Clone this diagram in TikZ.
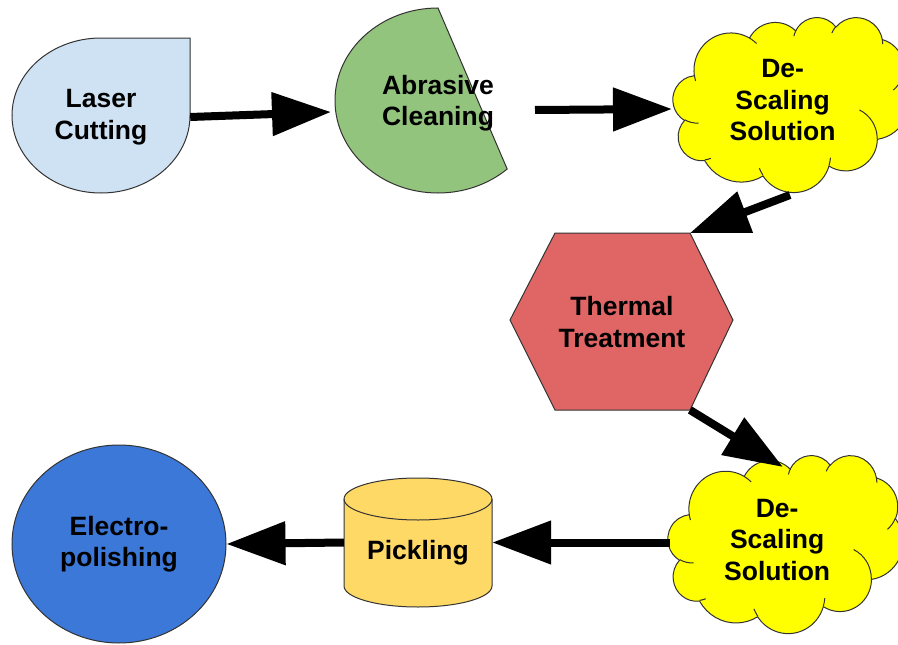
\documentclass[tikz,border=0pt]{standalone}
\usepackage{fontspec}
\setmainfont{Liberation Sans}
\usetikzlibrary{arrows.meta,shapes.geometric}
\definecolor{cLaser}{HTML}{CFE2F3}
\definecolor{cAbr}{HTML}{93C47D}
\definecolor{cCloud}{HTML}{FFFF00}
\definecolor{cHex}{HTML}{E06666}
\definecolor{cCyl}{HTML}{FFD966}
\definecolor{cElec}{HTML}{3C78D8}
\definecolor{cEdge}{HTML}{333333}
\tikzset{
  shapeline/.style={draw=cEdge, line width=1pt},
  lbl/.style={font=\bfseries\fontsize{26.5}{31.5}\selectfont, align=center, text=black, inner sep=0pt},
  arr/.style={line width=8pt, draw=black, -{Triangle[length=59pt,width=42pt]}},
}
% convert a DrawingML (geometric) arc angle pair into parametric start/delta
\newcommand\cldprep[5]{%
  \pgfmathsetmacro\cldtmpS{atan2(#2*sin(#4), #3*cos(#4))}%
  \pgfmathsetmacro\cldtmpE{atan2(#2*sin(#4+#5), #3*cos(#4+#5))}%
  \pgfmathsetmacro\cldtmpD{Mod(\cldtmpE-\cldtmpS+720,360)}%
  \global\expandafter\let\csname cldS#1\endcsname\cldtmpS
  \global\expandafter\let\csname cldD#1\endcsname\cldtmpD
}
\newcommand\cldprepall{%
  \cldprep{a}{675.3}{919.0}{-190.4875}{123.7805}%
  \cldprep{b}{533.3}{726.7}{-144.1024}{89.9452}%
  \cldprep{c}{436.5}{594.5}{-145.8079}{99.7230}%
  \cldprep{d}{485.7}{659.5}{-130.9861}{117.2417}%
  \cldprep{e}{533.3}{727.3}{-78.7089}{109.0269}%
  \cldprep{f}{677.5}{922.0}{-46.2673}{130.2690}%
  \cldprep{g}{578.5}{786.7}{0.6250}{114.0333}%
  \cldprep{h}{675.2}{921.5}{22.4516}{115.1726}%
  \cldprep{i}{772.0}{1054.3}{66.2426}{75.7110}%
  \cldprep{j}{436.0}{591.8}{-274.9421}{146.7356}%
  \cldprep{k}{434.5}{594.5}{-246.8285}{152.5189}%
  \cldprep{ia}{434.5}{594.5}{86.742}{26.4295}%
  \cldprep{ib}{436.0}{591.8}{73.6105}{11.4475}%
  \cldprep{ic}{675.2}{921.5}{137.6241}{14.0811}%
  \cldprep{id}{675.2}{921.5}{6.4533}{15.9984}%
  \cldprep{ie}{578.5}{786.7}{-70.2924}{70.9174}%
  \cldprep{if}{533.3}{727.3}{30.3180}{27.7515}%
  \cldprep{ig}{485.7}{659.5}{-13.7443}{14.8589}%
  \cldprep{ih}{485.7}{659.5}{-149.1815}{18.1954}%
  \cldprep{ii}{436.5}{594.5}{-163.4943}{17.6864}%
  \cldprep{ij}{675.3}{919.0}{-66.7070}{12.3194}%
  \cldprep{ik}{675.3}{919.0}{157.6544}{11.8582}%
}
% cloud: left, top, width, height, name, text
\newcommand\gcloud[6]{%
  \pgfmathsetmacro\cloudxu{#3/4320}%
  \pgfmathsetmacro\cloudyu{#4/4320}%
  \begin{scope}[shift={(#1,#2)}, x=\cloudxu pt, y=-\cloudyu pt]
    \filldraw[shapeline, fill=cCloud] (390,1437)
      arc[x radius=675.3, y radius=919.0, start angle=\cldSa, delta angle=\cldDa]
      arc[x radius=533.3, y radius=726.7, start angle=\cldSb, delta angle=\cldDb]
      arc[x radius=436.5, y radius=594.5, start angle=\cldSc, delta angle=\cldDc]
      arc[x radius=485.7, y radius=659.5, start angle=\cldSd, delta angle=\cldDd]
      arc[x radius=533.3, y radius=727.3, start angle=\cldSe, delta angle=\cldDe]
      arc[x radius=677.5, y radius=922.0, start angle=\cldSf, delta angle=\cldDf]
      arc[x radius=578.5, y radius=786.7, start angle=\cldSg, delta angle=\cldDg]
      arc[x radius=675.2, y radius=921.5, start angle=\cldSh, delta angle=\cldDh]
      arc[x radius=772.0, y radius=1054.3, start angle=\cldSi, delta angle=\cldDi]
      arc[x radius=436.0, y radius=591.8, start angle=\cldSj, delta angle=\cldDj]
      arc[x radius=434.5, y radius=594.5, start angle=\cldSk, delta angle=\cldDk]
      -- cycle;
    \draw[shapeline]
      (469.3,2617.7) arc[x radius=434.5, y radius=594.5, start angle=\cldSia, delta angle=\cldDia]
      (692.8,3489.9) arc[x radius=436.0, y radius=591.8, start angle=\cldSib, delta angle=\cldDib]
      (1647.8,3909.0) arc[x radius=675.2, y radius=921.5, start angle=\cldSic, delta angle=\cldDic]
      (2882.7,3475.1) arc[x radius=675.2, y radius=921.5, start angle=\cldSid, delta angle=\cldDid]
      (3412.9,2295.4) arc[x radius=578.5, y radius=786.7, start angle=\cldSie, delta angle=\cldDie]
      (4179.8,1535.4) arc[x radius=533.3, y radius=727.3, start angle=\cldSif, delta angle=\cldDif]
      (3832.4,542.6) arc[x radius=485.7, y radius=659.5, start angle=\cldSig, delta angle=\cldDig]
      (2907.8,395.2) arc[x radius=485.7, y radius=659.5, start angle=\cldSih, delta angle=\cldDih]
      (2214.1,472.0) arc[x radius=436.5, y radius=594.5, start angle=\cldSii, delta angle=\cldDii]
      (1400.0,519.2) arc[x radius=675.3, y radius=919.0, start angle=\cldSij, delta angle=\cldDij]
      (412.7,1578.9) arc[x radius=675.3, y radius=919.0, start angle=\cldSik, delta angle=\cldDik];
    \node[lbl] (#5) at (2006.6,2059.8) {#6};
  \end{scope}%
}
\begin{document}
\begin{tikzpicture}[x=1pt, y=-1pt]
\cldprepall
\fill[white] (0,0) rectangle (898,645);
\useasboundingbox (0,0) rectangle (898,645);

% Laser Cutting (teardrop)
\filldraw[shapeline, fill=cLaser] (190,115.5) -- (190,38) -- (101,38)
  arc[start angle=270, end angle=0, x radius=89, y radius=77.5] -- cycle;
\node[lbl, minimum width=178pt, minimum height=155pt] (laser) at (101,117) {Laser\\Cutting};

% Abrasive Cleaning (chord)
\filldraw[shapeline, fill=cAbr] (438,8)
  arc[start angle=270, end angle=47.8, x radius=103, y radius=92.5] -- cycle;
\node[lbl] (abrasive) at (438,103) {Abrasive\\Cleaning};

% Clouds
\gcloud{673}{17}{236}{175}{cloudA}{De-\\Scaling\\Solution}
\gcloud{668}{455}{235}{178}{cloudB}{De-\\Scaling\\Solution}

% Thermal Treatment (hexagon)
\coordinate (h1) at (510,320);
\coordinate (h2) at (555,233);
\coordinate (h3) at (690,233);
\coordinate (h4) at (733,320);
\coordinate (h5) at (690,410);
\coordinate (h6) at (555,410);
\filldraw[shapeline, fill=cHex] (h1) -- (h2) -- (h3) -- (h4) -- (h5) -- (h6) -- cycle;
\node[lbl] (thermal) at (622,322) {Thermal\\Treatment};

% Pickling (cylinder)
\filldraw[shapeline, fill=cCyl] (344,499) -- (344,586)
  arc[start angle=180, end angle=0, x radius=74, y radius=21] -- (492,499)
  arc[start angle=0, end angle=-180, x radius=74, y radius=21] -- cycle;
\draw[shapeline] (344,499) arc[start angle=180, end angle=0, x radius=74, y radius=21];
\node[lbl, minimum width=148pt, minimum height=129pt] (pickling) at (418,542.5) {};
\node[lbl] (picklingtxt) at (418,553) {Pickling};

% Electro-polishing (circle)
\node[ellipse, shapeline, fill=cElec, minimum width=214pt, minimum height=198pt, lbl] (electro) at (119,544) {Electro-\\polishing};

% connector end points
\coordinate (abrIn) at (331,112);
\coordinate (abrOut) at (535,110);
\coordinate (cloudAIn) at (672,109);
\coordinate (cloudAOut) at (790,195);
\coordinate (cloudBIn) at (783,467);
\coordinate (cloudBOut) at (670,542.5);

\draw[arr] (laser.east) -- (abrIn);
\draw[arr] (abrOut) -- (cloudAIn);
\draw[arr] (cloudAOut) -- (h3);
\draw[arr] (h5) -- (cloudBIn);
\draw[arr] (cloudBOut) -- (pickling.east);
\draw[arr] (pickling.west) -- (electro.east);
\end{tikzpicture}
\end{document}
